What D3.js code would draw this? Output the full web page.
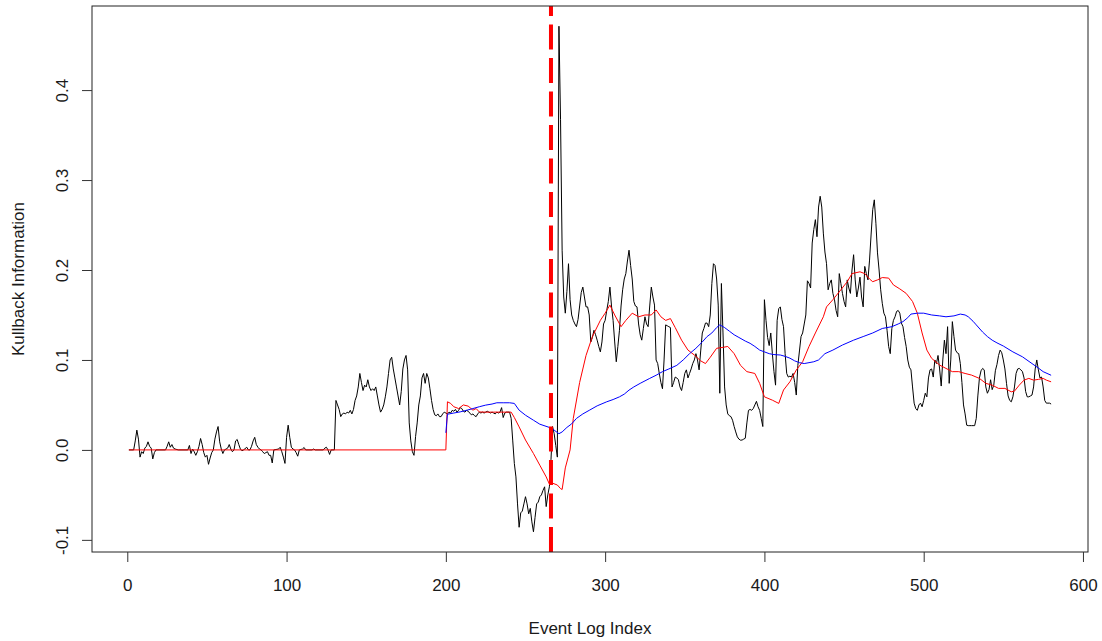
<!DOCTYPE html>
<html>
<head>
<meta charset="utf-8">
<script src="https://cdn.jsdelivr.net/npm/d3@7"></script>
<style>
  body { margin: 0; background: #fff; }
  svg { display: block; font-family: 'Liberation Sans', Arial, sans-serif; }
</style>
</head>
<body>
<svg id="chart" width="1102" height="641"></svg>
<script>
var xTicks = [0, 100, 200, 300, 400, 500, 600];
var xTickLabels = ["0", "100", "200", "300", "400", "500", "600"];
var yTicks = [-0.1, 0, 0.1, 0.2, 0.3, 0.4];
var yTickLabels = ["-0.1", "0.0", "0.1", "0.2", "0.3", "0.4"];
var xTitle = "Event Log Index";
var yTitle = "Kullback Information";
var changePoint = 266;

// [event index, value]
var klBlack = [
  [1,0],[4,0],[5,0.01],[6,0.022],[7,0.012],[8,-0.008],[9,-0.002],[10,-0.004],[11,0.002],[12,0.004],[13,0.009],[14,0.004],[15,0.002],[16,-0.01],[17,-0.003],[18,0],[24,0],[25,0.004],[26,0.009],[27,0.003],[28,0.006],[29,0.002],[30,0.001],[32,0],[38,0],[39,0.005],[40,-0.004],[41,0.001],[42,-0.002],[43,-0.006],[44,-0.002],[45,0.004],[46,0.0127],[47,0.006],[48,-0.003],[49,-0.008],[50,-0.006],[51,-0.016],[52,-0.009],[53,-0.003],[54,0],[55,0.012],[56,0.02],[57,0.026],[58,0.009],[59,0.001],[60,-0.004],[61,0],[62,0.001],[63,0.002],[64,0.006],[65,0.001],[66,-0.002],[67,0],[68,0.01],[69,0.0116],[70,0.006],[71,0.001],[72,-0.001],[73,0],[75,0.003],[76,0],[77,0],[78,0.004],[79,0.01],[80,0.014],[81,0.006],[82,0.003],[83,0.001],[84,0],[85,-0.002],[86,-0.004],[87,-0.003],[88,-0.002],[89,-0.006],[90,-0.006],[91,-0.0145],[92,0],[95,0.001],[96,0.003],[97,-0.002],[98,-0.008],[99,-0.015],[100,0.014],[101,0.0275],[102,0.014],[103,0.003],[104,0.001],[105,0],[106,-0.003],[107,-0.007],[108,0],[110,0.001],[111,0.0027],[112,0],[116,0],[117,0.001],[118,0],[123,0],[124,0.002],[125,0.003],[126,0],[127,-0.005],[128,0],[130,0],
  [131,0.055],[132,0.05],[133,0.045],[134,0.037],[135,0.04],[136,0.041],[137,0.04],[138,0.042],[139,0.041],[140,0.044],[141,0.04],[142,0.045],[143,0.055],[144,0.06],[145,0.07],[146,0.085],[147,0.075],[148,0.066],[149,0.072],[150,0.07],[151,0.078],[152,0.07],[153,0.066],[154,0.068],[155,0.066],[156,0.07],[157,0.06],[158,0.05],[159,0.042],[160,0.045],[161,0.05],[162,0.059],[163,0.07],[164,0.085],[165,0.1],[166,0.103],[167,0.09],[168,0.08],[169,0.07],[170,0.06],[171,0.05],[172,0.065],[173,0.09],[174,0.1],[175,0.105],[176,0.089],[177,0.03],[178,0.01],[179,-0.002],[180,-0.006],[181,0.015],[182,0.03],[183,0.05],[184,0.06],[185,0.08],[186,0.085],[187,0.074],[188,0.085],[189,0.08],[190,0.068],[191,0.055],[192,0.045],[193,0.039],[194,0.038],[195,0.04],[196,0.037],[197,0.037],[198,0.04],[199,0.042],
  [200,0.041],[201,0.04],[202,0.042],[203,0.041],[204,0.044],[205,0.043],[206,0.045],[207,0.042],[208,0.044],[209,0.047],[210,0.046],[211,0.043],[212,0.042],[213,0.044],[214,0.043],[215,0.041],[216,0.039],[217,0.04],[218,0.038],[219,0.037],[220,0.04],[221,0.042],[222,0.041],[223,0.042],[224,0.041],[225,0.042],[226,0.043],[227,0.042],[228,0.041],[229,0.042],[230,0.041],[231,0.04],[232,0.042],[233,0.041],[234,0.042],[235,0.047],[236,0.036],[237,0.041],[238,0.042],[239,0.042],[240,0.042],
  [241,0.035],[242,0.01],[243,-0.015],[244,-0.03],[245,-0.06],[246,-0.086],[247,-0.07],[248,-0.068],[249,-0.06],[250,-0.052],[251,-0.06],[252,-0.071],[253,-0.065],[254,-0.08],[255,-0.091],[256,-0.075],[257,-0.06],[258,-0.058],[259,-0.052],[260,-0.05],[261,-0.045],[262,-0.041],[263,-0.063],[264,-0.05],[265,-0.041],[266,-0.011],[267,0.026],[268,0.018],[269,0.005],[270,-0.008],
  [271,0.471],[272,0.367],[273,0.222],[274,0.17],[275,0.152],[276,0.176],[277,0.207],[278,0.167],[279,0.15],[280,0.144],[281,0.14],[282,0.137],[283,0.145],[284,0.16],[285,0.175],[286,0.181],[287,0.17],[288,0.159],[289,0.159],[290,0.15],[291,0.12],[292,0.125],[293,0.133],[294,0.128],[295,0.122],[296,0.115],[297,0.109],[298,0.12],[299,0.14],[300,0.144],[301,0.155],[302,0.165],[303,0.181],[304,0.16],[305,0.144],[306,0.12],[307,0.098],[308,0.115],[309,0.133],[310,0.16],[311,0.178],[312,0.19],[313,0.196],[314,0.21],[315,0.222],[316,0.205],[317,0.19],[318,0.165],[319,0.16],[320,0.159],[321,0.14],[322,0.128],[323,0.122],[324,0.135],[325,0.148],[326,0.14],[327,0.137],[328,0.16],[329,0.181],[330,0.17],[331,0.161],[332,0.1],[333,0.096],[334,0.085],[335,0.075],[336,0.068],[337,0.1],[338,0.139],[339,0.138],[340,0.137],[341,0.136],[342,0.07],[343,0.075],[344,0.081],[345,0.08],[346,0.078],[347,0.07],[348,0.066],[349,0.075],[350,0.085],[351,0.089],[352,0.08],[353,0.085],[354,0.09],[355,0.096],[356,0.1],[357,0.107],[358,0.1],[359,0.089],[360,0.11],[361,0.13],[362,0.135],[363,0.141],[364,0.141],[365,0.137],[366,0.15],[367,0.185],[368,0.207],[369,0.205],[370,0.19],[371,0.161],[372,0.063],[373,0.185],[374,0.13],[375,0.07],[376,0.05],[377,0.04],[378,0.038],[379,0.037],[380,0.033],[381,0.026],[382,0.02],[383,0.0145],[384,0.012],[385,0.0108],[386,0.011],[387,0.012],[388,0.013],[389,0.03],[390,0.044],[391,0.045],[392,0.044],[393,0.046],[394,0.05],[395,0.054],[396,0.048],[397,0.044],[398,0.035],[399,0.026],
  [400,0.167],[401,0.144],[402,0.125],[403,0.116],[404,0.13],[405,0.107],[406,0.087],[407,0.072],[408,0.144],[409,0.157],[410,0.159],[411,0.145],[412,0.137],[413,0.107],[414,0.085],[415,0.081],[416,0.082],[417,0.081],[418,0.085],[419,0.075],[420,0.061],[421,0.094],[422,0.11],[423,0.126],[424,0.13],[425,0.14],[426,0.15],[427,0.188],[428,0.185],[429,0.18],[430,0.23],[431,0.245],[432,0.256],[433,0.237],[434,0.27],[435,0.282],[436,0.27],[437,0.241],[438,0.22],[439,0.207],[440,0.178],[441,0.185],[442,0.189],[443,0.174],[444,0.167],[445,0.155],[446,0.148],[447,0.196],[448,0.185],[449,0.174],[450,0.165],[451,0.159],[452,0.189],[453,0.18],[454,0.174],[455,0.2],[456,0.217],[457,0.189],[458,0.17],[459,0.18],[460,0.192],[461,0.17],[462,0.159],[463,0.204],[464,0.196],[465,0.189],[466,0.211],[467,0.24],[468,0.267],[469,0.278],[470,0.252],[471,0.219],[472,0.2],[473,0.178],[474,0.163],[475,0.152],[476,0.148],[477,0.133],[478,0.115],[479,0.107],[480,0.135],[481,0.144],[482,0.148],[483,0.154],[484,0.155],[485,0.152],[486,0.141],[487,0.137],[488,0.125],[489,0.115],[490,0.1],[491,0.092],[492,0.089],[493,0.07],[494,0.052],[495,0.046],[496,0.044],[497,0.05],[498,0.052],[499,0.048],
  [500,0.055],[501,0.063],[502,0.059],[503,0.08],[504,0.089],[505,0.09],[506,0.081],[507,0.1],[508,0.096],[509,0.105],[510,0.09],[511,0.071],[512,0.1],[513,0.122],[514,0.107],[515,0.137],[516,0.074],[517,0.1],[518,0.1426],[519,0.126],[520,0.111],[521,0.108],[522,0.107],[523,0.096],[524,0.075],[525,0.05],[526,0.04],[527,0.0275],[528,0.027],[529,0.027],[530,0.027],[531,0.027],[532,0.027],[533,0.035],[534,0.06],[535,0.08],[536,0.088],[537,0.0906],[538,0.089],[539,0.07],[540,0.063],[541,0.067],[542,0.078],[543,0.067],[544,0.072],[545,0.088],[546,0.095],[547,0.105],[548,0.111],[549,0.108],[550,0.1],[551,0.09],[552,0.074],[553,0.06],[554,0.055],[555,0.0535],[556,0.059],[557,0.07],[558,0.085],[559,0.09],[560,0.0906],[561,0.089],[562,0.087],[563,0.08],[564,0.065],[565,0.059],[566,0.059],[567,0.06],[568,0.061],[569,0.07],[570,0.09],[571,0.1],[572,0.089],[573,0.08],[574,0.081],[575,0.07],[576,0.055],[577,0.052],[578,0.052],[579,0.052],[580,0.051]
];

var klRed = [
  [1,0],[200,0],[201,0.0535],[203,0.0517],[205,0.048],[208,0.046],[211,0.05],[214,0.0487],[217,0.0442],[219,0.046],[221,0.0422],[225,0.042],[230,0.042],[235,0.042],[240,0.042],[241,0.042],[243,0.036],[246,0.0256],[250,0.011],[255,-0.004],[259,-0.017],[263,-0.03],[265,-0.038],[267,-0.037],[270,-0.039],[272,-0.043],[273,-0.044],[275,-0.02],[278,0.0],[280,0.035],[284,0.075],[288,0.105],[292,0.126],[297,0.144],[300,0.152],[303,0.161],[306,0.15],[310,0.137],[313,0.144],[317,0.152],[321,0.148],[325,0.15],[329,0.15],[332,0.1556],[335,0.148],[338,0.144],[341,0.146],[344,0.136],[348,0.122],[352,0.111],[356,0.1055],[360,0.099],[363,0.096],[366,0.103],[370,0.113],[374,0.114],[377,0.115],[381,0.107],[385,0.094],[389,0.087],[394,0.085],[397,0.074],[400,0.059],[405,0.0553],[409,0.0517],[412,0.0666],[416,0.0757],[420,0.0888],[424,0.098],[428,0.115],[432,0.13],[437,0.148],[439,0.159],[443,0.167],[448,0.178],[452,0.187],[455,0.196],[460,0.198],[463,0.196],[466,0.19],[468,0.187],[471,0.189],[474,0.1916],[478,0.191],[481,0.1834],[485,0.179],[489,0.174],[493,0.165],[496,0.152],[499,0.13],[502,0.111],[505,0.1018],[510,0.0943],[514,0.0906],[518,0.087],[522,0.087],[526,0.085],[530,0.0832],[535,0.0795],[539,0.074],[543,0.072],[547,0.0684],[551,0.0684],[555,0.0646],[557,0.0654],[560,0.072],[563,0.0776],[566,0.0795],[569,0.0776],[572,0.0784],[575,0.0795],[577,0.0776],[580,0.0757]
];

var klBlue = [
  [200,0.019],[201,0.0397],[205,0.041],[209,0.0423],[213,0.044],[217,0.046],[221,0.048],[225,0.0498],[229,0.051],[232,0.0524],[236,0.0524],[240,0.0524],[243,0.0517],[246,0.0442],[250,0.0386],[255,0.033],[259,0.0286],[265,0.025],[268,0.022],[271,0.018],[273,0.02],[276,0.025],[279,0.029],[282,0.035],[286,0.04],[290,0.044],[295,0.049],[301,0.0535],[305,0.056],[309,0.059],[312,0.062],[315,0.0665],[318,0.07],[322,0.074],[328,0.0795],[332,0.083],[336,0.087],[340,0.09],[345,0.094],[349,0.1],[353,0.107],[357,0.113],[361,0.12],[364,0.126],[367,0.13],[370,0.136],[372,0.139],[375,0.136],[378,0.132],[381,0.128],[384,0.125],[388,0.121],[391,0.1185],[394,0.115],[397,0.111],[400,0.109],[403,0.107],[406,0.106],[410,0.1055],[413,0.104],[416,0.102],[419,0.099],[422,0.097],[425,0.096],[428,0.097],[431,0.098],[434,0.1],[438,0.107],[443,0.111],[449,0.1166],[456,0.122],[462,0.126],[468,0.13],[474,0.135],[480,0.137],[484,0.14],[487,0.1426],[490,0.147],[492,0.151],[496,0.152],[500,0.152],[505,0.15],[510,0.149],[514,0.148],[519,0.149],[523,0.151],[526,0.15],[528,0.148],[531,0.143],[533,0.139],[537,0.131],[540,0.126],[543,0.122],[546,0.119],[550,0.1155],[556,0.109],[562,0.1035],[568,0.096],[572,0.091],[575,0.087],[580,0.083]
];

var svg = d3.select("#chart");
var plot = { left: 92, right: 1088, top: 6, bottom: 552 };
var fontSize = 17;

// R style 4% padding on both axes
function padded(ext) {
  var r = ext[1] - ext[0];
  return [ext[0] - 0.04 * r, ext[1] + 0.04 * r];
}
var allPts = klBlack.concat(klRed, klBlue);
var x = d3.scaleLinear()
  .domain(padded(d3.extent(allPts, function(d){ return d[0]; })))
  .range([plot.left, plot.right]);
var y = d3.scaleLinear()
  .domain(padded(d3.extent(allPts, function(d){ return d[1]; })))
  .range([plot.bottom, plot.top]);

var line = d3.line()
  .x(function(d){ return x(d[0]); })
  .y(function(d){ return y(d[1]); });

var lines = svg.append("g").attr("fill", "none").attr("stroke-width", 1).attr("stroke-linejoin", "round");
lines.append("path").datum(klBlack).attr("stroke", "#000").attr("d", line);
lines.append("path").datum(klRed).attr("stroke", "#ff0000").attr("d", line);
lines.append("path").datum(klBlue).attr("stroke", "#0000ff").attr("d", line);

// change point marker, drawn bottom-up like abline
svg.append("line")
  .attr("x1", x(changePoint)).attr("x2", x(changePoint))
  .attr("y1", plot.bottom).attr("y2", plot.top)
  .attr("stroke", "#ff0000")
  .attr("stroke-width", 4)
  .attr("stroke-dasharray", "25,8.5");

svg.append("rect")
  .attr("x", plot.left).attr("y", plot.top)
  .attr("width", plot.right - plot.left).attr("height", plot.bottom - plot.top)
  .attr("fill", "none").attr("stroke", "#222").attr("stroke-width", 1);

var xAxis = d3.axisBottom(x)
  .tickValues(xTicks)
  .tickFormat(function(d, i){ return xTickLabels[i]; })
  .tickSize(10).tickSizeOuter(0).tickPadding(17);
var gx = svg.append("g").attr("transform", "translate(0," + plot.bottom + ")").call(xAxis);

var yAxis = d3.axisLeft(y)
  .tickValues(yTicks)
  .tickFormat(function(d, i){ return yTickLabels[i]; })
  .tickSize(10).tickSizeOuter(0);
var gy = svg.append("g").attr("transform", "translate(" + plot.left + ",0)").call(yAxis);

[gx, gy].forEach(function(g){
  g.attr("font-family", null).attr("font-size", fontSize);
  g.select(".domain").remove();
  g.selectAll(".tick line").attr("stroke", "#333");
  g.selectAll(".tick text").attr("fill", "#1a1a1a");
});

gy.selectAll(".tick text")
  .attr("x", null).attr("dy", "0.35em")
  .attr("text-anchor", "middle")
  .attr("transform", "translate(-30,0) rotate(-90)");

svg.append("text")
  .attr("x", (plot.left + plot.right) / 2).attr("y", 634)
  .attr("text-anchor", "middle").attr("font-size", fontSize).attr("fill", "#1a1a1a")
  .text(xTitle);

svg.append("text")
  .attr("transform", "translate(18," + (plot.top + plot.bottom) / 2 + ") rotate(-90)")
  .attr("dy", "0.35em")
  .attr("text-anchor", "middle").attr("font-size", fontSize).attr("fill", "#1a1a1a")
  .text(yTitle);
</script>
</body>
</html>
